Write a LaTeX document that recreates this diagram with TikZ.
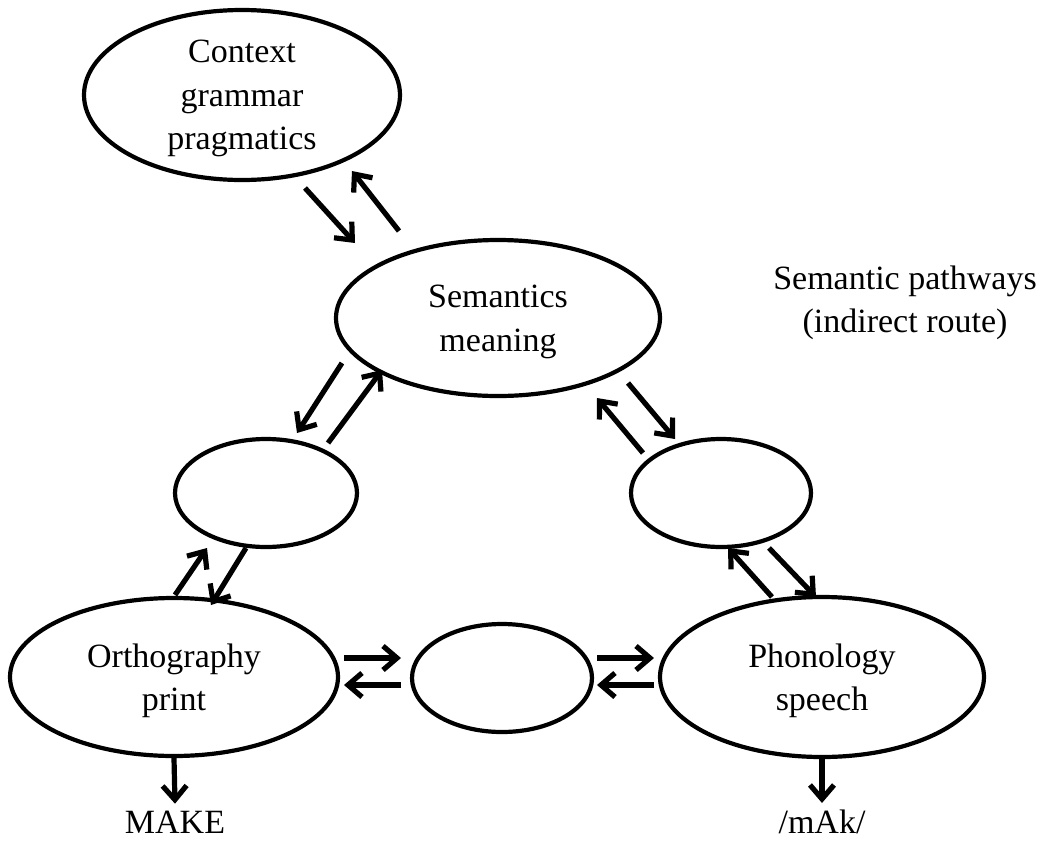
\documentclass[tikz,border=0pt]{standalone}
\usepackage{fontspec}
\setmainfont{Liberation Serif}
\usetikzlibrary{arrows.meta,shapes.geometric,calc}

\tikzset{
  box/.style={draw,ellipse,line width=2.1pt,inner sep=0pt,align=center,text depth=0pt},
  arr/.style={line width=2.6pt,-{Straight Barb[length=7pt,width=12pt]}}
}

\begin{document}
\begin{tikzpicture}[x=0.5pt,y=-0.5pt,font=\fontsize{17}{21.8}\selectfont]
  \useasboundingbox (0,0) rectangle (1062,852);
  % ellipses
  \node[box,minimum width=158pt,minimum height=85pt] (ctx) at (242,95) {Context\\grammar\\pragmatics};
  \node[box,minimum width=162pt,minimum height=78pt] (sem) at (498,318) {Semantics\\meaning};
  \node[box,minimum width=91pt,minimum height=54pt] (lft) at (266,493) {};
  \node[box,minimum width=90pt,minimum height=54pt] (rgt) at (721,493) {};
  \node[box,minimum width=164pt,minimum height=79pt] (orth) at (174,677) {Orthography\\print};
  \node[box,minimum width=90pt,minimum height=54pt] (mid) at (502,678) {};
  \node[box,minimum width=162pt,minimum height=80pt] (phon) at (822,677) {Phonology\\speech};
  \node[align=center] (path) at (905,303) {Semantic pathways\\(indirect route)};
  \node (make) at (175,822) {MAKE};
  \node (mak) at (822,822) {/mAk/};
  % context <-> semantics
  \draw[arr] ($(ctx)+(63,93)$) -- ($(sem)+(-143,-75)$);
  \draw[arr] ($(sem)+(-99,-87)$) -- ($(ctx)+(110,76)$);
  % semantics <-> left / right
  \draw[arr] ($(sem)+(-156,45)$) -- ($(lft)+(31,-60)$);
  \draw[arr] ($(lft)+(62,-50)$) -- ($(sem)+(-116,52)$);
  \draw[arr] ($(rgt)+(-78,-40)$) -- ($(sem)+(99,80)$);
  \draw[arr] ($(sem)+(130,65)$) -- ($(rgt)+(-46,-54)$);
  % left / right <-> orthography, phonology
  \draw[arr] ($(orth)+(1,-82)$) -- ($(lft)+(-59,55)$);
  \draw[arr] ($(lft)+(-20,55)$) -- ($(orth)+(37,-72)$);
  \draw[arr] ($(phon)+(-50,-80)$) -- ($(rgt)+(7,55)$);
  \draw[arr] ($(rgt)+(48,55)$) -- ($(phon)+(-6,-80)$);
  % direct route
  \draw[arr] ($(orth)+(170,-19)$) -- ($(mid)+(-101,-20)$);
  \draw[arr] ($(mid)+(-101,7)$) -- ($(orth)+(170,8)$);
  \draw[arr] ($(mid)+(95,-20)$) -- ($(phon)+(-168,-19)$);
  \draw[arr] ($(phon)+(-168,8)$) -- ($(mid)+(95,7)$);
  % outputs
  \draw[arr] (orth.south) -- (make.north);
  \draw[arr] (phon.south) -- (mak.north);
\end{tikzpicture}
\end{document}
